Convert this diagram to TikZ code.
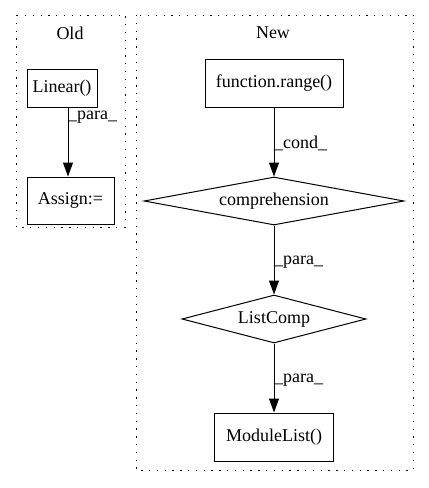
\documentclass[tikz,border=0pt]{standalone}
\usepackage{fontspec}
\setmainfont{Liberation Serif}
\usetikzlibrary{arrows.meta,shapes.geometric}
\begin{document}
\begin{tikzpicture}[x=1pt,y=-1pt,
  every node/.style={font=\fontsize{18}{21}\selectfont},
  cluster/.style={draw, line width=1pt, dash pattern=on 1.3pt off 6.5pt},
  opbox/.style={draw, line width=1pt, rectangle, inner sep=0pt},
  choice/.style={draw, line width=1pt, diamond, inner sep=0pt},
  flow/.style={line width=1pt, -{Triangle[length=14pt,width=10pt]}},
  tag/.style={anchor=west, inner sep=0pt}]
\useasboundingbox (0,0) rectangle (429,488);

% clusters
\draw[cluster] (16,15) rectangle (125,227);
\node (oldlbl) at (70,33) {Old};
\draw[cluster] (136,15) rectangle (413,470);
\node (newlbl) at (273,33) {New};

% Old
\node[opbox, minimum width=70pt, minimum height=38pt] (linear) at (62,88) {Linear()};
\node[opbox, minimum width=87pt, minimum height=47pt] (assign) at (70.5,200.5) {Assign:=};
\draw[flow] (linear.south -| 68,0) -- (assign.north -| 68,0);
\node[tag] (l1) at (68,117) {\_para\_};

% New
\node[opbox, minimum width=138pt, minimum height=48pt] (range) at (274,83) {function.range()};
\node[choice, shape aspect=5.42, minimum width=260pt, minimum height=48pt] (compr) at (274,201) {comprehension};
\node[choice, shape aspect=3.83, minimum width=184pt, minimum height=48pt] (lcomp) at (274,319) {ListComp};
\node[opbox, minimum width=119pt, minimum height=48pt] (mlist) at (274,437) {ModuleList()};

\draw[flow] (range) -- (compr);
\draw[flow] (compr) -- (lcomp);
\draw[flow] (lcomp) -- (mlist);
\node[tag] (l2) at (274,143) {\_cond\_};
\node[tag] (l3) at (274,262) {\_para\_};
\node[tag] (l4) at (274,380) {\_para\_};
\end{tikzpicture}
\end{document}
